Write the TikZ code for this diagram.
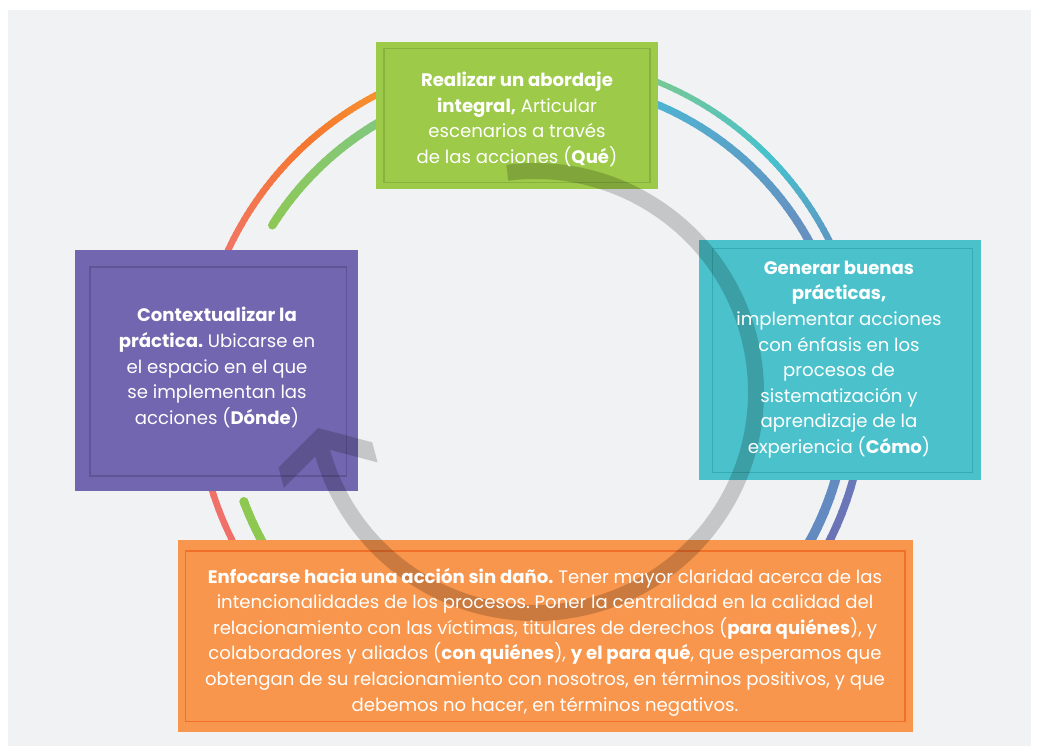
\documentclass[tikz,border=0pt]{standalone}
\usepackage{fontspec}
\setmainfont{Poppins}
\usetikzlibrary{calc}
\frenchspacing
\definecolor{pagebg}{HTML}{F1F2F4}
\definecolor{boxgreen}{HTML}{9DCA49}
\definecolor{boxgreenline}{HTML}{86B340}
\definecolor{boxpurple}{HTML}{7166AF}
\definecolor{boxpurpleline}{HTML}{5E5597}
\definecolor{boxcyan}{HTML}{4BC2CB}
\definecolor{boxcyanline}{HTML}{33ADB3}
\definecolor{boxorange}{HTML}{F7964C}
\definecolor{boxorangeline}{HTML}{F0702A}
\definecolor{rA}{HTML}{EF6F6B}
\definecolor{rB}{HTML}{F27563}
\definecolor{rC}{HTML}{F47730}
\definecolor{rD}{HTML}{F8952E}
\definecolor{rE}{HTML}{7CC98F}
\definecolor{rF}{HTML}{47C1CD}
\definecolor{rG}{HTML}{6489C0}
\definecolor{rH}{HTML}{6C6FB5}
\definecolor{iA}{HTML}{8DC857}
\definecolor{iB}{HTML}{80C785}
\definecolor{iC}{HTML}{4DB5D2}
\definecolor{iD}{HTML}{6690C0}
\definecolor{iE}{HTML}{6389C2}
\definecolor{iF}{HTML}{8DC850}
% gradient arc: cx, cy, R, t1, t2, colour1, colour2, width1, width2
\newcommand\ringseg[9]{%
  \foreach \k in {0,...,23}{%
    \pgfmathsetmacro\ta{#4+(#5-#4)*\k/24}%
    \pgfmathsetmacro\tb{#4+(#5-#4)*(\k+1)/24+0.3}%
    \pgfmathsetmacro\ww{#8+(#9-#8)*(\k+0.5)/24}%
    \pgfmathtruncatemacro\pp{100-100*\k/23}%
    \draw[line width=\ww pt, color=#6!\pp!#7] ($(#1,#2)+(\ta:#3)$) arc[start angle=\ta, end angle=\tb, radius=#3];%
  }%
}
\begin{document}
\begin{tikzpicture}[x=1pt,y=-1pt,
  boxshape/.style={rectangle, inner sep=0pt, outer sep=0pt, draw=none},
  innerline/.style={line width=1.8pt},
  txt/.style={text=white, align=center, inner sep=0pt, font=\fontsize{18.1pt}{25.6pt}\selectfont\frenchspacing}]
\useasboundingbox (0,0) rectangle (1038,752);
\fill[white] (0,0) rectangle (1038,752);
\fill[pagebg] (8,10) rectangle (1031,746);

% outer ring
\ringseg{531}{391}{334}{140}{205}{rA}{rB}{6.5}{6.5}
\ringseg{531}{391}{334}{205}{228}{rB}{rC}{6.5}{6.5}
\ringseg{531}{391}{334}{228}{245}{rC}{rD}{6.5}{6.5}
\ringseg{531}{391}{334}{245}{290}{rD}{rE}{6}{5.5}
\ringseg{531}{391}{334}{290}{316}{rE}{rF}{5.5}{6}
\ringseg{531}{391}{334}{316}{340}{rF}{rG}{6}{6.8}
\ringseg{531}{391}{334}{340}{395}{rG}{rH}{6.8}{8.2}
% inner ring
\ringseg{536}{392}{312}{212.3}{245}{iA}{iB}{8.5}{8.5}
\ringseg{536}{392}{312}{245}{290}{iB}{iC}{8.5}{7.2}
\ringseg{536}{392}{312}{290}{330}{iC}{iD}{7.2}{8.2}
\ringseg{536}{392}{312}{330}{400}{iD}{iE}{8.2}{10}
\ringseg{536}{392}{312}{400}{505}{iE}{iF}{10}{8.5}
\ringseg{536}{392}{312}{505}{519.5}{iF}{iF}{8.5}{8.5}
\fill[iA] ($(536,392)+(212.3:312)$) circle[radius=4.25pt];
\fill[iF] ($(536,392)+(519.5:312)$) circle[radius=4.25pt];

% boxes
\node[boxshape, fill=boxgreen, minimum width=282pt, minimum height=146pt] (boxT) at (516.5,115.5) {};
\node[boxshape, fill=boxpurple, minimum width=282.5pt, minimum height=240.5pt] (boxL) at (216.25,370.25) {};
\node[boxshape, fill=boxcyan, minimum width=282.5pt, minimum height=240pt] (boxR) at (839.75,359.5) {};
\node[boxshape, fill=boxorange, minimum width=735.5pt, minimum height=191.5pt] (boxB) at (545.25,635.75) {};
\draw[innerline, boxgreenline] ($(boxT.north west)+(8.5,6)$) rectangle ($(boxT.south east)+(-7.5,-6)$);
\draw[innerline, boxpurpleline] ($(boxL.north west)+(15,17)$) rectangle ($(boxL.south east)+(-11,-14.5)$);
\draw[innerline, boxcyanline] ($(boxR.north west)+(14,9)$) rectangle ($(boxR.south east)+(-8.5,-7)$);
\draw[innerline, boxorangeline] ($(boxB.north west)+(8,11)$) rectangle ($(boxB.south east)+(-8,-10)$);

% grey cycle arrow
\begin{scope}[transparency group, opacity=0.18]
  \draw[black, line width=16pt] ($(535,392)+(262.8:221)$) arc[start angle=262.8, end angle=527, radius=221];
  \fill[black] (318,428) -- (278.5,467.7) -- (283.9,487.8) -- (323.4,448.1) -- (377.6,462.4) -- (372.2,442.3) -- cycle;
\end{scope}

% texts
\node[txt] (txtT) at (517,119.5) {\textbf{Realizar un abordaje}\\\textbf{integral,} Articular\\escenarios a través\\de las acciones (\textbf{Qué})};
\node[txt] (txtL) at (217,367.5) {\textbf{Contextualizar la}\\\textbf{práctica.} Ubicarse en\\el espacio en el que\\se implementan las\\acciones (\textbf{Dónde})};
\node[txt] (txtR) at (839,359.5) {\textbf{Generar buenas}\\\textbf{prácticas,}\\implementar acciones\\con énfasis en los\\procesos de\\sistematización y\\aprendizaje de la\\experiencia (\textbf{Cómo})};
\node[txt] (txtB) at (545,642) {\textbf{Enfocarse hacia una acción sin daño.} Tener mayor claridad acerca de las\\intencionalidades de los procesos. Poner la centralidad en la calidad del\\relacionamiento con las víctimas, titulares de derechos (\textbf{para quiénes}), y\\colaboradores y aliados (\textbf{con quiénes}), \textbf{y el para qué}, que esperamos que\\obtengan de su relacionamiento con nosotros, en términos positivos, y que\\debemos no hacer, en términos negativos.};
\end{tikzpicture}
\end{document}
